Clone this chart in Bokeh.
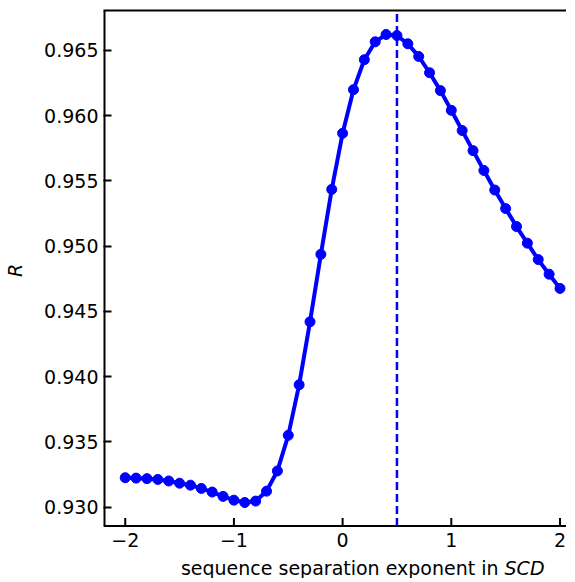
from bokeh.plotting import figure
from bokeh.models import (Range1d, FixedTicker, PrintfTickFormatter, LinearAxis)
from bokeh.core.properties import value
from bokeh.embed import file_html
from bokeh.resources import INLINE

# ---- data ----
exponents = [-2.0, -1.9, -1.8, -1.7, -1.6, -1.5, -1.4, -1.3, -1.2, -1.1,
             -1.0, -0.9, -0.8, -0.7, -0.6, -0.5, -0.4, -0.3, -0.2, -0.1,
             0.0, 0.1, 0.2, 0.3, 0.4, 0.5, 0.6, 0.7, 0.8, 0.9,
             1.0, 1.1, 1.2, 1.3, 1.4, 1.5, 1.6, 1.7, 1.8, 1.9, 2.0]
r_values = [0.93225, 0.93222, 0.93218, 0.93212, 0.93200, 0.93183, 0.93168, 0.93143, 0.93115, 0.93082,
            0.93053, 0.93035, 0.93046, 0.93122, 0.93277, 0.93550, 0.93937, 0.94420, 0.94937, 0.95435,
            0.95865, 0.96199, 0.96429, 0.96566, 0.96622, 0.96614, 0.96551, 0.96454, 0.96329, 0.96192,
            0.96041, 0.95886, 0.95732, 0.95580, 0.95430, 0.95288, 0.95150, 0.95023, 0.94897, 0.94785,
            0.94676]
best_exponent = 0.5
x_ticks = [-2, -1, 0, 1, 2]
x_tick_labels = ["\u22122", "\u22121", "0", "1", "2"]
y_ticks = [0.930, 0.935, 0.940, 0.945, 0.950, 0.955, 0.960, 0.965]
y_label = "R"
x_label_main = "sequence separation exponent in"
x_label_italic = "SCD"

FONT = "DejaVu Sans"
BLUE = "#0000ff"

# visible axes box (data) and the extra room below it for the x-axis texts
X0, X1 = -2.2, 2.06
Y0, Y1 = 0.92855, 0.96806
BOX_PX = 515.5          # pixel height of the axes box
FRAME_PX = 568          # pixel height of the whole frame (box + x-axis area)
PX = (Y1 - Y0) / BOX_PX # data units per pixel (vertical)
Y_START = Y1 - FRAME_PX * PX

p = figure(width=566, height=578, output_backend="svg", toolbar_location=None,
           x_range=Range1d(X0, X1), y_range=Range1d(Y_START, Y1),
           min_border_left=103, min_border_right=0, min_border_top=10, min_border_bottom=0)
p.outline_line_color = None
p.grid.visible = False
p.background_fill_color = "white"
p.border_fill_color = "white"
p.xaxis.visible = False

p.line(exponents, r_values, line_color=BLUE, line_width=4)
p.scatter(exponents, r_values, size=10, fill_color=BLUE, line_color=BLUE)

p.segment(x0=[best_exponent], y0=[Y0], x1=[best_exponent], y1=[Y1], line_color=BLUE,
          line_width=2.5, line_dash="8 4")

# spines (left & bottom) drawn in data space
p.segment(x0=[X0], y0=[Y0], x1=[X0], y1=[Y1], line_color="black", line_width=4)
p.segment(x0=[X0], y0=[Y0], x1=[X1], y1=[Y0], line_color="black", line_width=2)

# x ticks, tick labels and axis label
p.segment(x0=x_ticks, y0=[Y0] * len(x_ticks), x1=x_ticks, y1=[Y0 + 8 * PX] * len(x_ticks),
          line_color="black", line_width=2)
p.text(x=x_ticks, y=[Y0 - 13.5 * PX] * len(x_ticks), text=x_tick_labels,
       text_align="center", text_baseline="alphabetic", text_font=value(FONT),
       text_font_size="19px", text_color="black")
p.text(x=[1.435], y=[Y0 - 42 * PX], text=[x_label_main], text_align="right",
       text_baseline="alphabetic", text_font=value(FONT), text_font_size="19px",
       text_color="black")
p.text(x=[1.49], y=[Y0 - 42 * PX], text=[x_label_italic], text_align="left",
       text_baseline="alphabetic", text_font=value(FONT), text_font_style="italic",
       text_font_size="19px", text_color="black")

# y axis (ticks + labels from Bokeh)
ya = p.yaxis[0]
ya.axis_line_color = None
ya.major_tick_in = 8
ya.major_tick_out = 0
ya.major_tick_line_width = 2
ya.major_tick_line_color = "black"
ya.minor_tick_line_color = None
ya.major_label_text_font = FONT
ya.major_label_text_font_size = "19px"
ya.major_label_text_color = "black"
ya.ticker = FixedTicker(ticks=y_ticks)
ya.formatter = PrintfTickFormatter(format="%.3f")
ya.major_label_standoff = 5
# leading no-break spaces lift the label to the centre of the axes box
ya.axis_label = "\u00a0" * 8 + y_label
ya.axis_label_text_font = FONT
ya.axis_label_text_font_style = "italic"
ya.axis_label_text_font_size = "19px"
ya.axis_label_text_color = "black"
ya.axis_label_standoff = 15

# top spine
top = LinearAxis(ticker=FixedTicker(ticks=[]), axis_line_width=2, axis_line_color="black",
                 major_tick_line_color=None, minor_tick_line_color=None,
                 major_label_text_font_size="0px")
p.add_layout(top, "above")

open("out.html", "w").write(file_html(p, INLINE))
